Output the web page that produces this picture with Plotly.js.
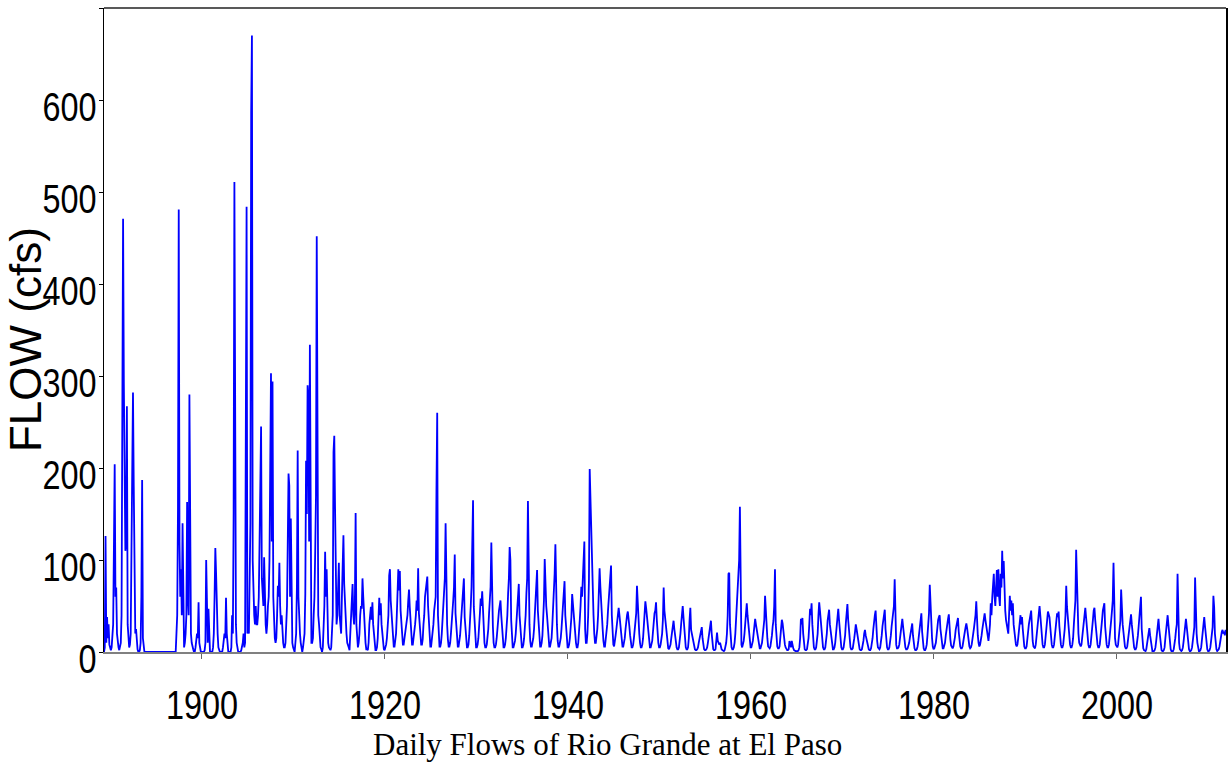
<!DOCTYPE html>
<html><head><meta charset="utf-8">
<script src="https://cdn.plot.ly/plotly-3.0.1.min.js"></script>
<style>html,body{margin:0;padding:0;background:#fff}#chart{width:1228px;height:763px}</style>
</head><body><div id="chart"></div>
<script>
// Monthly flow readings (cfs), one row per year, Jan..Dec
const startYearA = 1889;
const flowA = [
 [0,0,0,0,5,126,10,38,15,30,8,3],
 [2,5,15,30,115,204,60,70,20,10,5,2],
 [5,10,40,200,471,292,150,110,120,267,30,8],
 [5,8,20,110,204,282,180,60,20,25,10,3],
 [0,0,2,10,60,187,15,3,0,0,0,0],
 [0,0,0,0,0,0,0,0,0,0,0,0],
 [0,0,0,0,0,0,0,0,0,0,0,0],
 [0,0,0,0,0,0,0,0,0,0,0,0],
 [0,0,20,40,154,481,120,60,90,40,140,8],
 [5,10,20,40,163,60,40,280,60,20,10,5],
 [3,0,0,5,10,20,15,54,10,3,0,0],
 [0,0,0,2,10,100,20,10,47,5,0,0],
 [0,0,5,20,60,113,85,40,20,5,2,0],
 [0,0,0,5,10,20,15,59,20,5,0,0],
 [0,0,5,40,20,151,511,60,30,10,3,0],
 [0,0,0,2,5,10,20,5,10,231,484,20],
 [30,20,60,140,586,670,100,54,40,30,50,30],
 [30,40,60,120,183,245,80,60,50,103,40,30],
 [20,30,50,60,100,185,303,120,294,60,25,15],
 [10,15,40,72,60,97,50,30,40,20,10,5],
 [5,10,30,50,120,194,181,60,145,30,10,5],
 [0,0,10,20,72,219,60,30,20,10,5,0],
 [5,10,20,63,208,150,290,276,120,334,40,10],
 [10,15,40,60,110,170,452,58,40,30,15,5],
 [3,0,5,20,50,109,60,90,30,10,5,2],
 [2,5,20,40,217,235,158,60,30,40,60,97],
 [40,30,20,60,96,127,74,50,30,20,10,5],
 [5,2,20,40,60,74,40,30,50,151,30,10],
 [5,10,20,40,50,47,80,60,40,30,10,3],
 [3,2,10,30,40,49,35,54,30,20,5,2],
 [2,5,15,35,59,40,53,30,20,10,3,2]
];
const startYearB = 1920;
const flowB = [
 [5,8,15,27,40,83,90,56,40,25,12,6],
 [6,12,20,40,60,90,67,88,45,30,15,8],
 [8,14,25,30,34,40,56,68,49,30,15,8],
 [8,14,25,30,40,56,45,91,42,30,15,8],
 [8,14,30,40,60,70,78,82,50,30,15,6],
 [6,12,20,30,45,53,60,175,260,40,15,6],
 [6,10,20,35,50,67,80,140,49,30,14,6],
 [6,10,20,30,45,56,70,106,42,25,12,6],
 [6,10,18,30,45,56,60,80,38,22,10,5],
 [5,8,18,30,50,71,107,165,49,30,12,5],
 [5,8,15,25,42,58,50,66,40,25,10,5],
 [5,8,15,25,42,60,71,119,45,28,10,5],
 [5,8,15,22,35,45,51,56,40,25,10,5],
 [5,8,15,25,40,64,80,114,100,35,12,5],
 [5,8,12,20,35,49,60,74,40,25,10,5],
 [5,8,15,25,40,64,80,164,49,30,12,6],
 [6,10,15,25,42,60,67,89,45,28,12,6],
 [6,10,18,35,56,101,67,50,40,28,12,6],
 [6,10,15,30,50,56,85,117,50,30,12,6],
 [6,10,15,25,38,45,55,77,40,25,10,5],
 [5,8,15,25,38,63,50,40,30,20,10,5],
 [5,10,20,35,50,71,60,80,90,120,25,10],
 [10,20,40,78,199,165,114,85,60,40,20,10],
 [10,15,25,40,60,91,71,50,40,25,12,6],
 [6,12,20,30,45,55,64,80,94,40,18,8],
 [6,10,18,25,35,42,48,40,30,20,10,6],
 [6,10,15,25,35,40,44,38,28,18,10,5],
 [5,8,15,25,35,42,72,50,35,20,10,5],
 [5,8,15,25,40,55,48,40,30,20,10,5],
 [5,8,12,22,35,42,45,54,35,20,10,5],
 [5,8,12,20,35,70,45,35,28,18,8,4],
 [3,5,8,15,24,30,34,25,18,10,5,3],
 [3,5,10,20,31,40,50,38,25,12,5,3],
 [3,5,15,35,48,24,20,15,10,5,3,2],
 [2,3,5,10,15,18,22,27,15,8,3,2],
 [2,3,5,10,15,22,28,34,20,10,3,2],
 [2,3,10,21,12,10,8,10,5,3,2,1],
 [1,2,5,10,20,40,85,86,30,15,5,3],
 [3,5,10,20,34,45,60,80,100,158,20,8],
 [5,8,12,20,30,42,53,40,30,20,10,5],
 [5,8,12,20,28,36,30,25,18,12,6,4],
 [4,6,10,18,28,35,61,40,25,15,6,4],
 [4,6,10,18,28,34,50,90,30,15,6,4]
];
const startYearC = 1963;
const flowC = [
 [4,6,15,25,35,31,20,12,8,5,3,2],
 [2,3,12,8,5,12,6,4,2,1,1,1],
 [1,1,2,5,15,36,30,37,20,10,3,2],
 [2,3,8,15,30,47,40,53,30,15,5,3],
 [3,5,10,20,40,54,45,35,25,12,5,3],
 [3,5,10,20,34,40,46,30,22,12,5,3],
 [3,5,10,18,31,40,47,35,22,12,5,3],
 [3,5,10,18,32,40,52,35,22,12,5,3],
 [3,4,8,15,22,30,25,18,12,6,3,2],
 [2,3,6,12,20,24,18,14,10,5,3,2],
 [2,4,8,15,25,38,40,45,25,12,5,3],
 [3,5,10,18,28,35,40,46,25,12,5,3],
 [3,5,10,18,28,38,40,50,79,20,8,4],
 [4,5,8,15,24,30,36,28,18,10,5,3],
 [3,4,6,10,16,22,25,31,18,8,4,2],
 [2,3,6,12,20,24,32,42,22,10,4,2],
 [2,4,8,18,30,42,73,45,28,15,6,3],
 [4,6,10,18,28,35,38,40,25,15,8,4],
 [4,6,10,18,26,32,36,41,24,14,7,4],
 [4,6,10,16,24,30,34,37,22,12,6,4],
 [4,6,10,16,22,27,31,26,18,12,6,4],
 [5,8,12,20,26,31,40,55,30,18,10,6],
 [8,12,18,25,32,38,42,35,28,20,15,12],
 [20,30,53,40,60,70,85,60,50,70,89,60],
 [90,60,50,85,70,110,80,99,60,45,35,30],
 [25,20,40,61,45,56,40,53,30,20,12,8],
 [6,8,15,25,35,40,30,38,25,12,6,4],
 [4,6,12,22,30,38,40,45,25,12,6,4],
 [4,8,15,25,32,38,50,40,28,15,8,5],
 [5,8,15,25,35,44,42,38,28,15,8,5],
 [5,8,15,25,35,42,38,44,28,15,8,5],
 [5,8,15,25,40,72,49,38,28,15,8,5],
 [5,8,15,30,45,56,111,81,40,20,10,6],
 [6,8,15,25,35,40,48,38,25,15,8,5],
 [5,8,15,25,35,45,48,35,25,15,8,5],
 [5,8,15,25,35,45,49,53,28,15,8,5],
 [5,8,15,25,35,45,56,97,30,15,8,5],
 [5,8,15,25,34,68,40,30,22,12,6,4],
 [4,6,12,20,30,34,41,30,20,10,5,3],
 [3,5,10,18,28,40,49,60,25,10,4,2],
 [1,1,3,8,15,20,26,18,10,4,1,1],
 [1,2,5,12,20,24,36,25,15,6,2,1],
 [1,2,5,15,24,27,40,30,18,8,3,1],
 [1,1,3,8,15,24,30,85,30,10,3,1],
 [1,2,5,12,20,27,36,28,18,8,3,1],
 [1,2,5,12,22,27,81,35,20,10,3,1],
 [1,2,5,12,22,33,38,28,18,8,3,1],
 [1,2,5,12,22,27,61,49,20,8,3,1],
 [2,3,6,12,20,22,24,20,22,18,24,22]
];
const xTickVals = [1900, 1920, 1940, 1960, 1980, 2000];
const yTickVals = [0, 100, 200, 300, 400, 500, 600, 700];
const yTickText = ['0', '100', '200', '300', '400', '500', '600', ''];

const xs = [], ys = [];
function addEra(first, rows) {
  rows.forEach((row, r) => row.forEach((v, m) => { xs.push(first + r + (m + 0.5) / 12); ys.push(v); }));
}
addEra(startYearA, flowA);
addEra(startYearB, flowB);
addEra(startYearC, flowC);

const tickFont = {family: '"Liberation Sans", Arial, sans-serif', size: 40, color: '#000'};

Plotly.newPlot('chart', [{
  x: xs, y: ys, type: 'scatter', mode: 'lines',
  line: {color: '#0000ff', width: 1.8}, hoverinfo: 'skip'
}], {
  width: 1228, height: 763,
  margin: {l: 104, r: 2, t: 8, b: 111},
  paper_bgcolor: '#fff', plot_bgcolor: '#fff',
  showlegend: false,
  xaxis: {range: [1889.29, 2011.92], tickvals: xTickVals, ticks: 'outside', ticklen: 5, tickwidth: 1,
    tickcolor: '#666', showline: true, linecolor: '#808080', linewidth: 2, showgrid: false, zeroline: false,
    tickfont: tickFont},
  yaxis: {range: [0, 700], tickvals: yTickVals, ticktext: yTickText, ticks: 'outside', ticklen: 4,
    tickcolor: '#000', showline: true, linecolor: '#000', linewidth: 1.5, mirror: true,
    showgrid: false, zeroline: false, tickfont: tickFont},
  shapes: [{type: 'line', xref: 'paper', yref: 'paper', x0: 0, x1: 1, y0: 1, y1: 1, line: {color: '#222', width: 1.5}}],
  annotations: [
    {text: 'FLOW (cfs)', xref: 'paper', yref: 'paper', x: -0.0695, y: 0.4845, textangle: -90,
     showarrow: false, xanchor: 'center', yanchor: 'middle',
     font: {family: '"Liberation Sans", Arial, sans-serif', size: 44, color: '#000'}},
    {text: 'Daily Flows of Rio Grande at El Paso', xref: 'paper', yref: 'paper', x: 0.449, y: -0.1435,
     showarrow: false, xanchor: 'center', yanchor: 'middle', borderpad: 0,
     font: {family: '"Liberation Serif", "Times New Roman", serif', size: 31, color: '#000'}}
  ]
}, {staticPlot: true}).then(gd => {
  // condense tick labels around their anchor to mimic a narrow typeface, then nudge into place
  const k = 0.81;
  const adjust = (sel, anchorFrac, dx, dy) => {
    gd.querySelectorAll(sel).forEach(t => {
      const b = t.getBBox();
      if (!b.width) return;
      const ax = b.x + b.width * anchorFrac;
      const prev = t.getAttribute('transform') || '';
      t.setAttribute('transform', prev + ' translate(' + (ax + dx) + ',' + dy + ') scale(' + k + ',1) translate(' + (-ax) + ',0)');
    });
  };
  adjust('.xtick text', 0.5, 0, 12);
  adjust('.ytick text', 1, 6, 7);
});
</script></body></html>
